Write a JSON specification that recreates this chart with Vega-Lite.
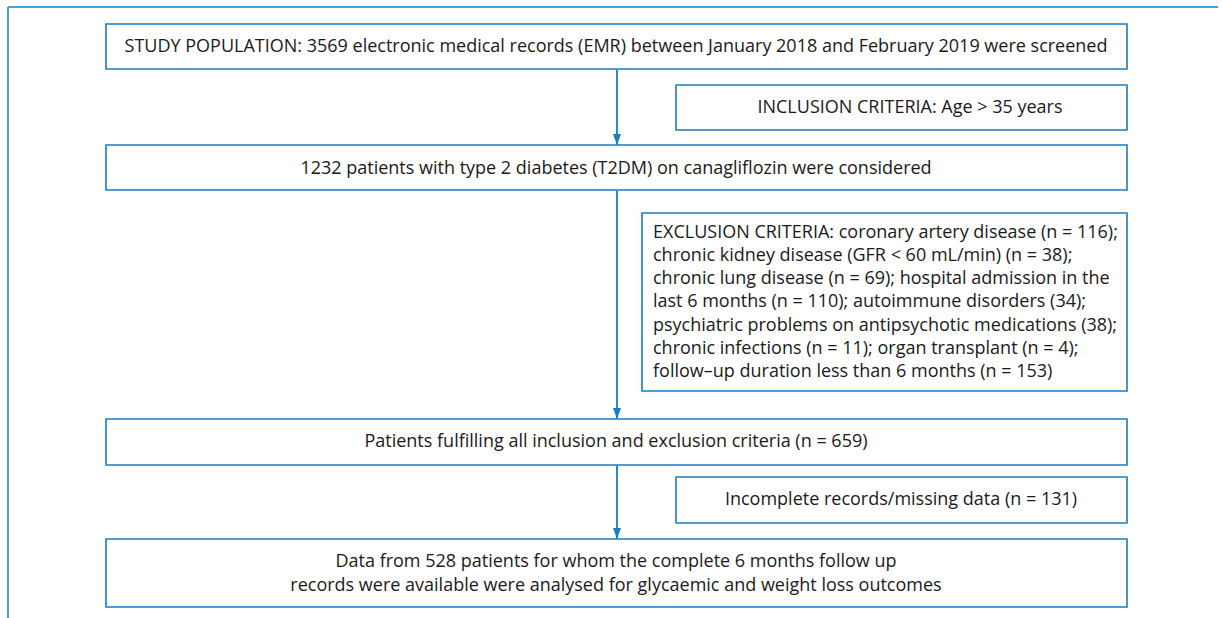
{
  "$schema": "https://vega.github.io/schema/vega-lite/v6.json",
  "width": 1222,
  "height": 618,
  "padding": 0,
  "autosize": {"type": "none"},
  "background": "white",
  "config": {"view": {"stroke": null}},
  "datasets": {
    "frame": [
      {"x": 8, "x2": 1218, "y": 7, "y2": 7},
      {"x": 8, "x2": 8, "y": 7, "y2": 618}
    ],
    "boxes": [
      {"id": "population", "x": 106, "x2": 1127, "y": 24, "y2": 69},
      {"id": "inclusion", "x": 676, "x2": 1127, "y": 85, "y2": 130},
      {"id": "considered", "x": 106, "x2": 1127, "y": 145, "y2": 190},
      {"id": "exclusion", "x": 642, "x2": 1127, "y": 213, "y2": 391},
      {"id": "fulfilling", "x": 106, "x2": 1127, "y": 419, "y2": 465},
      {"id": "incomplete", "x": 676, "x2": 1127, "y": 477, "y2": 523},
      {"id": "analysed", "x": 106, "x2": 1127, "y": 539, "y2": 607}
    ],
    "arrows": [
      {"x": 617, "y": 69, "y2": 145},
      {"x": 617, "y": 190, "y2": 419},
      {"x": 617, "y": 465, "y2": 539}
    ],
    "centered": [
      {"x": 616, "y": 47, "text": "STUDY POPULATION: 3569 electronic medical records (EMR) between January 2018 and February 2019 were screened"},
      {"x": 910, "y": 108, "text": "INCLUSION CRITERIA: Age > 35 years"},
      {"x": 616, "y": 169, "text": "1232 patients with type 2 diabetes (T2DM) on canagliflozin were considered"},
      {"x": 616, "y": 442, "text": "Patients fulfilling all inclusion and exclusion criteria (n = 659)"},
      {"x": 901, "y": 500, "text": "Incomplete records/missing data (n = 131)"},
      {"x": 616, "y": 562, "text": "Data from 528 patients for whom the complete 6 months follow up"},
      {"x": 616, "y": 586, "text": "records were available were analysed for glycaemic and weight loss outcomes"}
    ],
    "leftText": [
      {"x": 653, "y": 233, "text": "EXCLUSION CRITERIA: coronary artery disease (n = 116);"},
      {"x": 653, "y": 256, "text": "chronic kidney disease (GFR < 60 mL/min) (n = 38);"},
      {"x": 653, "y": 279, "text": "chronic lung disease (n = 69); hospital admission in the"},
      {"x": 653, "y": 302, "text": "last 6 months (n = 110); autoimmune disorders (34);"},
      {"x": 653, "y": 326, "text": "psychiatric problems on antipsychotic medications (38);"},
      {"x": 653, "y": 349, "text": "chronic infections (n = 11); organ transplant (n = 4);"},
      {"x": 653, "y": 372, "text": "follow\u2013up duration less than 6 months (n = 153)"}
    ]
  },
  "encoding": {},
  "layer": [
    {
      "data": {"name": "frame"},
      "mark": {"type": "rule", "color": "#4aa3d8", "strokeWidth": 2},
      "encoding": {
        "x": {"field": "x", "type": "quantitative", "scale": {"domain": [0, 1222], "range": [0, 1222], "nice": false, "zero": false}, "axis": null},
        "x2": {"field": "x2"},
        "y": {"field": "y", "type": "quantitative", "scale": {"domain": [0, 618], "range": [0, 618], "nice": false, "zero": false}, "axis": null},
        "y2": {"field": "y2"}
      }
    },
    {
      "data": {"name": "boxes"},
      "mark": {"type": "rect", "fill": "white", "stroke": "#1a7cc4", "strokeWidth": 1.6},
      "encoding": {
        "x": {"field": "x", "type": "quantitative", "scale": {"domain": [0, 1222], "range": [0, 1222], "nice": false, "zero": false}, "axis": null},
        "x2": {"field": "x2"},
        "y": {"field": "y", "type": "quantitative", "scale": {"domain": [0, 618], "range": [0, 618], "nice": false, "zero": false}, "axis": null},
        "y2": {"field": "y2"}
      }
    },
    {
      "data": {"name": "arrows"},
      "mark": {"type": "rule", "color": "#2a8ad0", "strokeWidth": 2},
      "encoding": {
        "x": {"field": "x", "type": "quantitative", "scale": {"domain": [0, 1222], "range": [0, 1222], "nice": false, "zero": false}, "axis": null},
        "y": {"field": "y", "type": "quantitative", "scale": {"domain": [0, 618], "range": [0, 618], "nice": false, "zero": false}, "axis": null},
        "y2": {"field": "y2"}
      }
    },
    {
      "data": {"name": "arrows"},
      "mark": {"type": "point", "filled": true, "color": "#1a7cc4", "opacity": 1, "size": 100, "shape": "M-0.8,-2.2L0.8,-2.2L0,0Z"},
      "encoding": {
        "x": {"field": "x", "type": "quantitative", "scale": {"domain": [0, 1222], "range": [0, 1222], "nice": false, "zero": false}, "axis": null},
        "y": {"field": "y2", "type": "quantitative", "scale": {"domain": [0, 618], "range": [0, 618], "nice": false, "zero": false}, "axis": null}
      }
    },
    {
      "data": {"name": "centered"},
      "mark": {"type": "text", "font": "Open Sans", "fontSize": 18, "color": "#1a1a1a", "align": "center", "baseline": "middle"},
      "encoding": {
        "x": {"field": "x", "type": "quantitative", "scale": {"domain": [0, 1222], "range": [0, 1222], "nice": false, "zero": false}, "axis": null},
        "y": {"field": "y", "type": "quantitative", "scale": {"domain": [0, 618], "range": [0, 618], "nice": false, "zero": false}, "axis": null},
        "text": {"field": "text"}
      }
    },
    {
      "data": {"name": "leftText"},
      "mark": {"type": "text", "font": "Open Sans", "fontSize": 18, "color": "#1a1a1a", "align": "left", "baseline": "middle"},
      "encoding": {
        "x": {"field": "x", "type": "quantitative", "scale": {"domain": [0, 1222], "range": [0, 1222], "nice": false, "zero": false}, "axis": null},
        "y": {"field": "y", "type": "quantitative", "scale": {"domain": [0, 618], "range": [0, 618], "nice": false, "zero": false}, "axis": null},
        "text": {"field": "text"}
      }
    }
  ]
}
